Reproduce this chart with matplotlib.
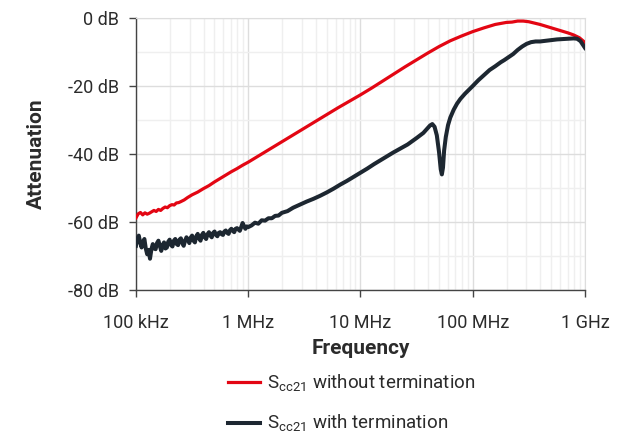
import numpy as np
import matplotlib
matplotlib.use("Agg")
import matplotlib.pyplot as plt
from matplotlib.ticker import FixedLocator, LogLocator, NullFormatter

plt.rcParams['font.family'] = ['Roboto', 'DejaVu Sans']

# red curve: S_cc21 without termination (log10 of frequency in Hz, dB)
red_logf = [5.00, 5.02, 5.04, 5.06, 5.08, 5.10, 5.12, 5.14, 5.16, 5.18,
            5.20, 5.22, 5.24, 5.26, 5.28, 5.30, 5.32, 5.34, 5.36, 5.38,
            5.40, 5.43, 5.46, 5.50, 5.55, 5.60, 5.65, 5.70, 5.75, 5.80,
            5.85, 5.90, 5.95, 6.00, 6.10, 6.20, 6.30, 6.40, 6.50, 6.60,
            6.70, 6.80, 6.90, 7.00, 7.10, 7.20, 7.30, 7.40, 7.50, 7.60,
            7.70, 7.80, 7.90, 8.00, 8.10, 8.20, 8.30, 8.35, 8.40, 8.45,
            8.50, 8.60, 8.70, 8.80, 8.85, 8.90, 8.95, 9.00]
red_db = [-58.8, -57.6, -57.2, -57.9, -57.3, -57.7, -57.4, -57.0, -56.6, -56.9,
          -56.3, -56.6, -56.0, -55.6, -55.8, -55.2, -54.9, -55.0, -54.4, -54.3,
          -54.0, -53.5, -52.8, -52.0, -51.2, -50.2, -49.3, -48.2, -47.2, -46.2,
          -45.2, -44.3, -43.3, -42.4, -40.4, -38.4, -36.4, -34.4, -32.4, -30.4,
          -28.4, -26.4, -24.5, -22.6, -20.6, -18.5, -16.4, -14.3, -12.3, -10.3,
          -8.4, -6.7, -5.3, -4.0, -2.9, -1.9, -1.3, -1.2, -0.9, -0.9,
          -1.1, -1.9, -2.9, -3.9, -4.4, -5.0, -5.8, -7.2]

# dark curve: S_cc21 with termination
blk_logf = [5.0000, 5.0125, 5.0250, 5.0375, 5.0500, 5.0625, 5.0750, 5.0875, 5.1000, 5.1125,
            5.1250, 5.1375, 5.1500, 5.1625, 5.1750, 5.1875, 5.2000, 5.2125, 5.2250, 5.2375,
            5.2500, 5.2625, 5.2750, 5.2875, 5.3000, 5.3125, 5.3250, 5.3375, 5.3500, 5.3625,
            5.3750, 5.3875, 5.4000, 5.4125, 5.4250, 5.4375, 5.4500, 5.4625, 5.4750, 5.4875,
            5.5000, 5.5125, 5.5250, 5.5375, 5.5500, 5.5625, 5.5750, 5.5875, 5.6000, 5.6125,
            5.6250, 5.6375, 5.6500, 5.6625, 5.6750, 5.6875, 5.7000, 5.7125, 5.7250, 5.7375,
            5.7500, 5.7625, 5.7750, 5.7875, 5.8000, 5.8125, 5.8250, 5.8375, 5.8500, 5.8625,
            5.8750, 5.8875, 5.9000, 5.9125, 5.9250, 5.9375, 5.9500, 5.9625, 5.9750, 5.9875,
            6.00, 6.03, 6.06, 6.09, 6.12, 6.15, 6.18, 6.21, 6.24, 6.27,
            6.30, 6.35, 6.40, 6.46, 6.52, 6.58, 6.64, 6.70, 6.76, 6.82,
            6.88, 6.94, 7.00, 7.06, 7.12, 7.17, 7.23, 7.29, 7.35, 7.42,
            7.50, 7.56, 7.62, 7.64, 7.66, 7.68, 7.70, 7.715, 7.725, 7.735,
            7.745, 7.76, 7.78, 7.80, 7.83, 7.86, 7.89, 7.93, 7.97, 8.00,
            8.05, 8.10, 8.15, 8.20, 8.25, 8.28, 8.32, 8.36, 8.40, 8.44,
            8.48, 8.52, 8.56, 8.60, 8.65, 8.70, 8.75, 8.80, 8.85, 8.90,
            8.93, 8.96, 8.98, 9.00]
blk_db = [-67.0, -65.0, -64.0, -66.0, -67.5, -65.8, -65.0, -67.8, -69.5, -68.2,
          -70.8, -68.0, -66.5, -67.8, -68.0, -66.2, -65.5, -67.0, -68.5, -66.8,
          -66.0, -67.8, -67.5, -65.8, -65.2, -66.8, -67.2, -65.5, -65.0, -66.5,
          -66.8, -65.2, -64.8, -66.2, -67.0, -65.5, -64.5, -65.2, -66.2, -64.6,
          -64.0, -65.5, -66.0, -64.2, -63.5, -64.8, -65.5, -63.8, -63.2, -64.5,
          -65.0, -63.6, -63.0, -64.0, -64.5, -63.2, -62.8, -63.8, -64.2, -63.2,
          -63.0, -63.6, -63.8, -62.8, -62.5, -63.2, -63.5, -62.4, -62.0, -62.6,
          -63.0, -62.0, -61.8, -62.2, -62.6, -61.5, -60.3, -61.2, -62.0, -61.3,
          -61.5, -61.0, -60.2, -60.5, -59.5, -59.6, -58.9, -58.9, -58.2, -58.1,
          -57.3, -56.8, -55.8, -54.9, -54.0, -53.2, -52.3, -51.3, -50.2, -49.0,
          -47.9, -46.7, -45.5, -44.3, -43.0, -42.0, -40.8, -39.6, -38.5, -37.2,
          -35.3, -33.8, -31.6, -31.2, -32.0, -34.5, -39.5, -44.5, -46.0, -44.0,
          -39.0, -35.0, -31.5, -29.3, -27.0, -25.2, -23.8, -22.3, -21.0, -20.0,
          -18.3, -16.8, -15.3, -14.2, -13.0, -12.4, -11.5, -10.6, -9.4, -8.4,
          -7.6, -7.1, -6.9, -6.9, -6.7, -6.5, -6.3, -6.2, -6.1, -6.0,
          -6.1, -6.8, -7.8, -8.8]

x_ticks = [1e5, 1e6, 1e7, 1e8, 1e9]
x_labels = ["100 kHz", "1 MHz", "10 MHz", "100 MHz", "1 GHz"]
y_ticks = [0, -20, -40, -60, -80]
y_labels = ["0 dB", "-20 dB", "-40 dB", "-60 dB", "-80 dB"]

red = "#e30613"
dark = "#1d2731"
txt = "#2b2b2b"

fig = plt.figure(figsize=(6.22, 4.37), dpi=100)
ax = fig.add_axes([0.2186, 0.3364, 0.7219, 0.6224])

ax.plot(10 ** np.array(red_logf), red_db, color=red, lw=2.3,
        label=r"S$_{\mathregular{cc21}}$ without termination", zorder=3)
ax.plot(10 ** np.array(blk_logf), blk_db, color=dark, lw=2.9,
        label=r"S$_{\mathregular{cc21}}$ with termination", zorder=3)

ax.set_xscale("log")
ax.set_xlim(1e5, 1e9)
ax.set_ylim(-80, 0)
ax.set_xticks(x_ticks)
ax.set_xticklabels(x_labels)
ax.xaxis.set_minor_locator(LogLocator(base=10, subs=np.arange(2, 10)))
ax.xaxis.set_minor_formatter(NullFormatter())
ax.set_yticks(y_ticks)
ax.set_yticklabels(y_labels)
ax.yaxis.set_minor_locator(FixedLocator([-10, -30, -50, -70]))

ax.grid(True, which="major", color="#dddddd", lw=1.0, zorder=0)
ax.grid(True, which="minor", color="#efefef", lw=1.0, zorder=0)
ax.set_axisbelow(True)

for s in ["top", "right"]:
    ax.spines[s].set_color("#dddddd")
for s in ["left", "bottom"]:
    ax.spines[s].set_color("#444444")
    ax.spines[s].set_linewidth(1.0)

ax.tick_params(axis="both", which="major", length=5, width=1.0, color="#444444",
               labelsize=13, labelcolor=txt)
ax.tick_params(axis="y", which="major", pad=7)
ax.tick_params(axis="x", which="major", pad=12)
ax.tick_params(axis="both", which="minor", length=0)

ax.set_xlabel("Frequency", fontsize=15, fontweight="bold", color=txt, labelpad=5)
ax.set_ylabel("Attenuation", fontsize=15, fontweight="bold", color=txt, labelpad=16)

fig.legend(loc="upper left", bbox_to_anchor=(0.339, 0.185), frameon=False,
           fontsize=13.5, handlelength=1.7, handletextpad=0.4, labelspacing=1.0,
           labelcolor=txt)

fig.savefig("out.png", dpi=100)
